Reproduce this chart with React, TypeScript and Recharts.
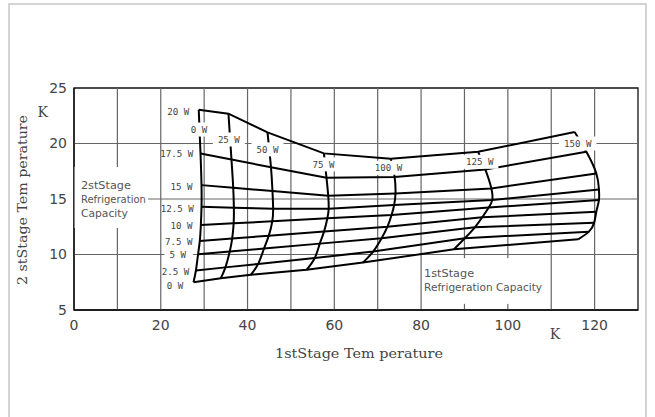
import React from 'react';
import { LineChart, Line, XAxis, YAxis, ReferenceLine, ReferenceArea, ReferenceDot } from 'recharts';

// ---- loads ----
const FIRST_STAGE_LOADS = [0, 25, 50, 75, 100, 125, 150];
const SECOND_STAGE_LOADS = [0, 2.5, 5, 7.5, 10, 12.5, 15, 17.5, 20];

// 1st-stage temperature (K) where each 1st-stage load curve meets each 2nd-stage load line
// (index follows SECOND_STAGE_LOADS)
const firstTemp0W = [27.55, 28.1, 28.6, 29.0, 29.24, 29.39, 29.39, 29.16, 28.75];
const firstTemp25W = [33.85, 34.9, 35.9, 36.46, 36.8, 36.85, 36.7, 36.3, 35.6];
const firstTemp50W = [40.76, 42.45, 43.8, 44.9, 45.7, 45.9, 45.75, 45.4, 44.6];
const firstTemp75W = [53.6, 55.5, 56.65, 57.65, 58.4, 58.7, 58.6, 58.2, 57.6];
const firstTemp100W = [66.6, 68.95, 70.9, 72.25, 73.2, 73.8, 74.1, 73.9, 73.0];
const firstTemp125W = [87.6, 90.07, 92.4, 94.1, 95.6, 96.4, 96.2, 94.8, 93.15];
const firstTemp150W = [116.2, 118.7, 119.9, 120.4, 121.0, 121.0, 120.4, 118.1, 115.4];

// 2nd-stage temperature (K) at the same crossings (index follows FIRST_STAGE_LOADS)
const secondTemp0W = [7.51, 7.87, 8.17, 8.62, 9.27, 10.47, 11.37];
const secondTemp2_5W = [8.56, 8.84, 9.15, 9.69, 10.26, 11.46, 12.06];
const secondTemp5W = [10.02, 10.27, 10.54, 10.98, 11.46, 12.45, 12.87];
const secondTemp7_5W = [11.22, 11.44, 11.7, 12.08, 12.51, 13.35, 13.86];
const secondTemp10W = [12.66, 12.81, 12.99, 13.26, 13.56, 14.24, 14.9];
const secondTemp12_5W = [14.31, 14.22, 14.12, 14.12, 14.46, 14.9, 15.86];
const secondTemp15W = [16.25, 16.01, 15.71, 15.29, 15.5, 15.95, 17.3];
const secondTemp17_5W = [19.1, 18.55, 17.87, 16.91, 16.99, 17.66, 19.25];
const secondTemp20W = [23.05, 22.69, 21.0, 19.11, 18.63, 19.25, 21.04];

const FIRST_TEMPS = [firstTemp0W, firstTemp25W, firstTemp50W, firstTemp75W, firstTemp100W, firstTemp125W, firstTemp150W];
const SECOND_TEMPS = [secondTemp0W, secondTemp2_5W, secondTemp5W, secondTemp7_5W, secondTemp10W, secondTemp12_5W, secondTemp15W, secondTemp17_5W, secondTemp20W];

// ---- axes ----
const X_TICKS = [0, 20, 40, 60, 80, 100, 120];
const Y_TICKS = [5, 10, 15, 20, 25];
const X_GRID = [10, 20, 30, 40, 50, 60, 70, 80, 90, 100, 110, 120];
const Y_GRID = [10, 15, 20];

// ---- text ----
const X_TITLE = '1stStage Tem perature';
const Y_TITLE = '2 stStage Tem perature';
const UNIT = 'K';
const CAPTION_2ND = ['2stStage', 'Refrigeration', 'Capacity'];
const CAPTION_1ST = ['1stStage', 'Refrigeration  Capacity'];

// label anchors (data units)
const FIRST_LABEL_X = [28.8, 35.7, 44.6, 57.5, 72.5, 93.5, 116.1];
const FIRST_LABEL_Y = [21.26, 20.36, 19.47, 18.12, 17.81, 18.35, 20.0];
const SECOND_LABEL_X = [25.17, 26.55, 25.8, 27.33, 27.33, 27.63, 27.33, 27.47, 26.55];
const SECOND_LABEL_Y = [7.18, 8.47, 9.97, 11.16, 12.57, 14.16, 16.1, 19.11, 22.84];

// build series
const secondStageSeries = SECOND_STAGE_LOADS.map((q2, j) =>
  FIRST_STAGE_LOADS.map((q1, i) => ({ x: FIRST_TEMPS[i][j], y: SECOND_TEMPS[j][i] }))
);
const firstStageSeries = FIRST_STAGE_LOADS.map((q1, i) =>
  SECOND_STAGE_LOADS.map((q2, j) => ({ x: FIRST_TEMPS[i][j], y: SECOND_TEMPS[j][i] }))
);

const MONO = '"DejaVu Sans Mono", "Liberation Mono", monospace';
const SANS = '"DejaVu Sans", sans-serif';
const SERIF = '"DejaVu Serif", serif';
const CHAR_W = 5.5;
const TEXT = '#444';

const makeTag = (text: string, align: 'middle' | 'end', box: boolean, padL: number, padR: number) => (p: any) => {
  const w = text.length * CHAR_W;
  const x0 = align === 'end' ? p.cx - w : p.cx - w / 2;
  return (
    <g>
      {box && <rect x={x0 - padL} y={p.cy - 7} width={w + padL + padR} height={14} fill="#fff" />}
      <text x={x0} y={p.cy} dy="0.36em" fontFamily={MONO} fontSize={9.2} fill={TEXT}
        textLength={w} lengthAdjust="spacingAndGlyphs">{text}</text>
    </g>
  );
};

const makeCaption = (lines: string[], widths: number[], box: { dx: number; dy: number; w: number; h: number }) => (p: any) => (
  <g>
    <rect x={p.cx + box.dx} y={p.cy + box.dy} width={box.w} height={box.h} fill="#fff" />
    {lines.map((t, k) => (
      <text key={k} x={p.cx} y={p.cy + k * 14.4} dy="0.36em" fontFamily={SANS} fontSize={10} fill="#555"
        textLength={widths[k]} lengthAdjust="spacingAndGlyphs">{t}</text>
    ))}
  </g>
);

export default function App() {
  return (
    <div style={{ position: 'absolute', left: 0, top: 0, width: 655, height: 417, background: '#fff', overflow: 'hidden' }}>
      <div style={{ position: 'absolute', left: 8, top: 3, width: 639, height: 430, border: '2px solid #d4d4d4', boxSizing: 'border-box' }} />
      <div style={{ position: 'absolute', left: 0, top: 0 }}>
        <LineChart width={655} height={417} margin={{ top: 88, right: 17, bottom: 67, left: 34 }}>
          <XAxis dataKey="x" type="number" domain={[0, 130]} ticks={X_TICKS} allowDataOverflow
            tickSize={0} tickMargin={10} height={40}
            axisLine={{ stroke: '#111', strokeWidth: 1.3 }} tickLine={false}
            tick={{ fontFamily: SANS, fontSize: 14, fill: TEXT }} />
          <YAxis dataKey="y" type="number" domain={[5, 25]} ticks={Y_TICKS} allowDataOverflow
            tickSize={0} tickMargin={7} width={40}
            axisLine={{ stroke: '#111', strokeWidth: 1.3 }} tickLine={false}
            tick={{ fontFamily: SANS, fontSize: 14, fill: TEXT }} />
          {X_GRID.map((v) => (
            <ReferenceLine key={'gx' + v} x={v} stroke="#666" strokeWidth={1.2} />
          ))}
          {Y_GRID.map((v) => (
            <ReferenceLine key={'gy' + v} y={v} stroke="#666" strokeWidth={1.2} />
          ))}
          {secondStageSeries.map((pts, j) => (
            <Line key={'s2' + j} data={pts} dataKey="y" type="linear" stroke="#000" strokeWidth={2}
              dot={false} activeDot={false} isAnimationActive={false} />
          ))}
          {firstStageSeries.map((pts, i) => (
            <Line key={'s1' + i} data={pts} dataKey="y" type="natural" stroke="#000" strokeWidth={2}
              dot={false} activeDot={false} isAnimationActive={false} />
          ))}
          {FIRST_STAGE_LOADS.map((q, i) => (
            <ReferenceDot key={'l1' + i} x={FIRST_LABEL_X[i]} y={FIRST_LABEL_Y[i]} r={1}
              shape={makeTag(`${q} W`, 'middle', true, 5, 5)} />
          ))}
          {SECOND_STAGE_LOADS.map((q, j) => (
            <ReferenceDot key={'l2' + j} x={SECOND_LABEL_X[j]} y={SECOND_LABEL_Y[j]} r={1}
              shape={makeTag(`${q} W`, 'end', q === 5, 5, 7)} />
          ))}
          <ReferenceDot x={1.59} y={16.26} r={1}
            shape={makeCaption(CAPTION_2ND, [50, 65, 47], { dx: -6.3, dy: -18, w: 73.5, h: 61 })} />
          <ReferenceDot x={80.69} y={8.32} r={1}
            shape={makeCaption(CAPTION_1ST, [50, 118], { dx: -1.6, dy: -15, w: 126.5, h: 45.7 })} />
          <ReferenceArea x1={0} x2={130} y1={5} y2={25} fill="none" fillOpacity={0} stroke="#111" strokeWidth={1.3} />
        </LineChart>
      </div>
      <svg width={655} height={417} style={{ position: 'absolute', left: 0, top: 0, pointerEvents: 'none' }}>
        <text x={359} y={353} dy="0.36em" textAnchor="middle" fontFamily={SERIF} fontSize={13} fill={TEXT}
          textLength={168} lengthAdjust="spacingAndGlyphs">{X_TITLE}</text>
        <text transform="translate(22.5,200) rotate(-90)" x={0} y={0} dy="0.36em" textAnchor="middle"
          fontFamily={SERIF} fontSize={13} fill={TEXT} textLength={170} lengthAdjust="spacingAndGlyphs">{Y_TITLE}</text>
        <text x={42.7} y={111.7} dy="0.36em" textAnchor="middle" fontFamily={SERIF} fontSize={14} fill={TEXT}>{UNIT}</text>
        <text x={555} y={334} dy="0.36em" textAnchor="middle" fontFamily={SERIF} fontSize={14} fill={TEXT}>{UNIT}</text>
      </svg>
    </div>
  );
}
